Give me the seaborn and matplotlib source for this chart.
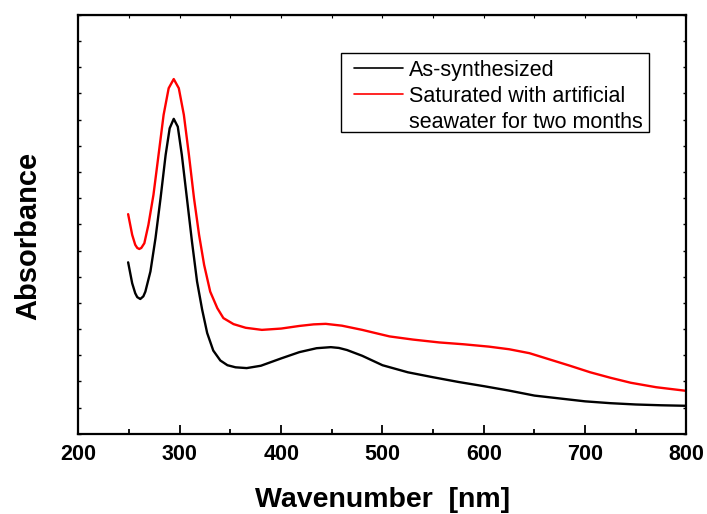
import numpy as np
import pandas as pd
import matplotlib
matplotlib.use("Agg")
import matplotlib.pyplot as plt
import seaborn as sns
from matplotlib.lines import Line2D
from matplotlib.patches import Rectangle
from matplotlib.ticker import MultipleLocator

sns.set_style("ticks")
plt.rcParams['font.family'] = ['Liberation Sans', 'DejaVu Sans']
for key in ['text.color', 'axes.labelcolor', 'axes.edgecolor', 'xtick.color', 'ytick.color']:
    plt.rcParams[key] = 'black'

# black curve: as-synthesized
wl_black = [249, 253, 256, 258, 261, 264, 266, 271, 276, 281, 286, 290, 294, 298, 302, 307,
            312, 317, 322, 327, 333, 340, 347, 355, 366, 380, 400, 418, 435, 449,
            457, 465, 480, 490, 500, 525, 550, 575, 600, 625, 650, 675, 700, 725, 750, 775, 800]
abs_black = [6.55, 5.75, 5.37, 5.22, 5.15, 5.25, 5.43, 6.20, 7.47, 9.00, 10.65, 11.67, 12.03, 11.73,
             10.65, 9.00, 7.34, 5.82, 4.75, 3.85, 3.18, 2.80, 2.62, 2.54, 2.51, 2.60, 2.88,
             3.12, 3.27, 3.31, 3.28, 3.20, 2.98, 2.80, 2.62, 2.35, 2.16, 1.98, 1.82, 1.65,
             1.46, 1.35, 1.24, 1.17, 1.12, 1.09, 1.07]

# red curve: saturated with artificial seawater
wl_red = [249, 253, 256, 258, 260, 262, 265, 269, 274, 279, 284, 289, 294, 299, 304, 309,
          314, 319, 324, 330, 337, 343, 353, 365, 381, 400, 418, 432, 444,
          460, 480, 495, 507, 530, 556, 580, 605, 625, 645, 665, 685, 705, 725, 745, 770, 800]
abs_red = [8.39, 7.60, 7.22, 7.10, 7.06, 7.10, 7.28, 7.98, 9.13, 10.65, 12.18, 13.20, 13.55, 13.20,
           12.18, 10.65, 9.00, 7.60, 6.45, 5.43, 4.80, 4.42, 4.19, 4.05, 3.97, 4.02,
           4.12, 4.18, 4.20, 4.13, 3.97, 3.83, 3.72, 3.60, 3.49, 3.42, 3.33, 3.23,
           3.08, 2.84, 2.60, 2.35, 2.14, 1.95, 1.78, 1.64]

labels = ["As-synthesized", "Saturated with artificial", "seawater for two months"]

df = pd.concat([
    pd.DataFrame({"wl": wl_black, "A": abs_black, "sample": "black"}),
    pd.DataFrame({"wl": wl_red, "A": abs_red, "sample": "red"}),
])

fig = plt.figure(figsize=(7.07, 5.14), dpi=100)
ax = fig.add_axes([0.111, 0.156, 0.86, 0.815])

sns.lineplot(data=df, x="wl", y="A", hue="sample", palette={"black": "black", "red": "red"},
             linewidth=1.7, legend=False, ax=ax, sort=False)

ax.set_xlim(200, 800)
ax.set_ylim(0, 16)
ax.xaxis.set_major_locator(MultipleLocator(100))
ax.xaxis.set_minor_locator(MultipleLocator(50))
ax.yaxis.set_major_locator(MultipleLocator(1))
ax.tick_params(axis='x', which='major', direction='in', length=6.5, width=1.3,
               labelsize=15.5, pad=7)
ax.tick_params(axis='x', which='minor', direction='in', length=3.6, width=1.3)
ax.tick_params(axis='y', which='major', direction='in', length=2.5, width=1.0,
               left=True, right=True, labelleft=False)
for lab in ax.get_xticklabels():
    lab.set_fontweight('bold')
for sp in ax.spines.values():
    sp.set_linewidth(1.6)
    sp.set_visible(True)

top = ax.secondary_xaxis('top')
top.xaxis.set_major_locator(MultipleLocator(50))
top.tick_params(direction='in', length=2, width=0.8, labeltop=False)

ax.set_xlabel("Wavenumber  [nm]", fontsize=20.5, fontweight='bold')
ax.set_ylabel("Absorbance", fontsize=21, fontweight='bold')
ax.xaxis.set_label_coords(0.5, -0.127)
ax.yaxis.set_label_coords(-0.06, 0.473)

handles = [Line2D([], [], color='black', lw=1.2),
           Line2D([], [], color='red', lw=1.2),
           Line2D([], [], color='none', lw=1.2)]
leg = ax.legend(handles, labels, loc='upper left', bbox_to_anchor=(0.448, 0.9005),
                fontsize=15.5, frameon=False, handlelength=2.27, handletextpad=0.29,
                labelspacing=0.23, borderpad=0.15, borderaxespad=0)
leg.set_zorder(6)
# legend box drawn separately (padding is not even in the original)
ax.add_patch(Rectangle((0.4317, 0.720), 0.5066, 0.190, transform=ax.transAxes,
                       facecolor='white', edgecolor='black', lw=1.0, zorder=5))

fig.savefig("out.png", dpi=100)
